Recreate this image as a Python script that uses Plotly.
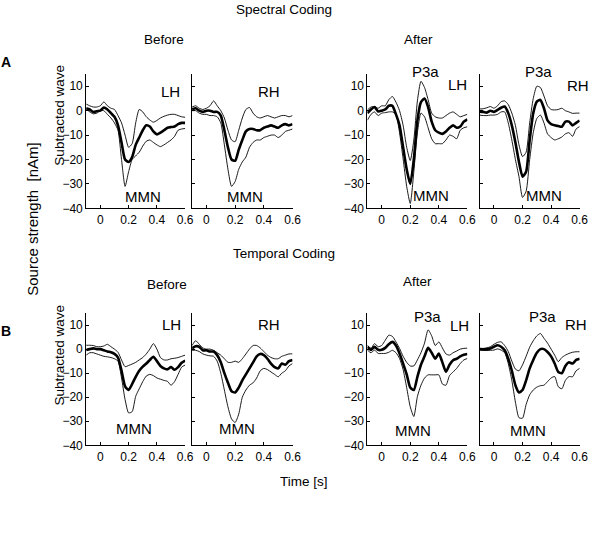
import plotly.graph_objects as go

# ---------------- data ----------------
TIME_S = [-0.1, -0.075, -0.05, -0.025, 0.0, 0.025, 0.05, 0.075, 0.1, 0.125,
          0.15, 0.175, 0.2, 0.225, 0.25, 0.275, 0.3, 0.325, 0.35, 0.375,
          0.4, 0.425, 0.45, 0.475, 0.5, 0.525, 0.55, 0.575, 0.6]

# Spectral coding, before, LH
spec_before_lh_mean = [1, 0.5, -0.5, -0.2, 0, 1.3, 0.5, -1, -2.5, -6, -13, -20, -21, -19, -14, -11, -8, -6, -6.5, -8.5, -9.7, -9, -8, -7, -6.7, -6.5, -5.5, -5, -5]
spec_before_lh_upper = [2.7, 2, 1.5, 1.5, 2, 3.6, 2, 1, 0.5, -2, -5, -10, -15, -13.5, -5, 0.5, -0.5, -2.5, -3.8, -4.7, -4, -3, -2.3, -1.8, -1.5, -1.5, -2, -2.5, -2.7]
spec_before_lh_lower = [0.7, -0.5, -1.3, -1, 0, 0, -1.5, -3, -5, -8, -20, -31, -25, -20, -18.5, -17, -14.5, -12.5, -12, -13, -14, -14.7, -14, -13, -12, -10.5, -8, -7.5, -7.3]
# Spectral coding, before, RH
spec_before_rh_mean = [0.5, 1, 0, -0.5, 0, 0, -0.5, -0.5, -2, -8, -15, -20, -20.5, -16, -12, -8.5, -7.5, -7.5, -8, -8, -7, -6.5, -6, -6.5, -7, -6, -5.5, -6, -5.5]
spec_before_rh_upper = [1.5, 2, 1, 0.5, 1, 2, 4, 2, 0, -3, -8, -12, -12.7, -8, -3, 0.5, 1.3, -1, -2.5, -3, -2.5, -2, -2.5, -3, -2.5, -2, -2, -2.5, -2]
spec_before_rh_lower = [0, 0, -1, -1.5, -1.5, -2, -2, -2.5, -5, -14, -24, -31, -29, -24, -21, -19, -15, -13, -12, -12, -11, -10.5, -10, -10, -11, -10, -8.5, -8, -7.5]
# Spectral coding, after, LH
spec_after_lh_mean = [-1, 0.5, 1.5, -0.3, 0, 0.5, 2, 2, -1.5, -6, -15, -24, -30, -20, -4, 3.5, 5, 1.5, -4.5, -8, -9, -9.5, -8.5, -7, -6, -7, -6.5, -4.5, -3.5]
spec_after_lh_upper = [0.3, 1.5, 1.7, 1, 2, 2, 4.5, 5.8, 3.5, 0, -6, -15, -20.4, -12, 4, 12, 9.5, 4.5, -1, -2.5, -3, -3, -2, -1, -0.5, -1.5, -2.5, -2, -1.5]
spec_after_lh_lower = [-3.9, -1.5, -0.5, -2, -1, -0.8, -0.5, -0.5, -1.5, -9, -19.7, -31, -38, -25, -9, -1, -2.5, -7, -11.5, -13.5, -13.5, -13.5, -12, -10, -10.5, -11.5, -8, -7, -6.6]
# Spectral coding, after, RH
spec_after_rh_mean = [-0.4, -0.5, -0.8, 0, -0.5, 0.3, 1.2, 1.7, -1, -6, -13, -21, -27, -25, -12, -1, 3.7, 4.4, 1, -4, -5.5, -6, -6.3, -6.6, -4.5, -4.5, -6, -5, -4]
spec_after_rh_upper = [0.7, 0.8, 1.2, 1.7, 1, 2, 3.7, 4, 2.5, -1, -6, -14, -18.8, -17, -5, 5, 10, 9.5, 6, 2, 0.5, 0.3, 0.5, 1, 0, -0.5, -1.1, -1, -1]
spec_after_rh_lower = [-1.8, -2, -2, -1.8, -1.8, -1.5, -0.5, -0.5, -5, -12, -20, -27, -35.5, -33, -20, -9, -3.2, -1.8, -5, -9.5, -11, -12, -11.5, -10.8, -9.5, -9, -10.5, -7.5, -6.5]

# Temporal coding, before, LH
temp_before_lh_mean = [-0.4, 0, 0.3, 0, 0, -0.5, -1, -1.3, -2, -3.5, -9, -15.5, -17, -14.5, -11.5, -9, -7.3, -6, -4.5, -3.2, -5, -7, -8, -8.4, -7.5, -8.6, -7.5, -5.7, -4.8]
temp_before_lh_upper = [1.6, 1.6, 1.5, 1, 1, 1.3, 2, 1, 0, -1.3, -4.5, -7.3, -6.8, -6.2, -5.5, -4.5, -3.5, -2, 0, 2.3, 0, -3.5, -4.5, -4.5, -4, -3.8, -3.5, -3, -2.5]
temp_before_lh_lower = [-2.5, -1.5, -1.5, -2, -2.5, -3, -3.2, -3.5, -4, -5, -12, -21, -26.5, -26, -19.6, -16.5, -13.5, -11.2, -10.5, -11, -12, -12.5, -13, -13.4, -15, -13.5, -10.5, -7.5, -6.6]
# Temporal coding, before, RH
temp_before_rh_mean = [0.3, 1.2, 1, -0.5, -0.5, -1, -1, -2.5, -5.5, -10, -14, -17.5, -18, -16, -13, -10.5, -8, -5.5, -3, -2, -2.5, -4, -6, -7.5, -8, -6, -6.5, -5, -4.5]
temp_before_rh_upper = [1.5, 3.5, 2, 0.5, 0, 0, -0.5, -1.5, -2.5, -4, -5.5, -5.5, -5, -5.5, -4, -2, 0, 1.5, 1.5, 0.5, -1, -2.5, -3.5, -4, -4, -3, -2.5, -2, -2]
temp_before_rh_lower = [-0.5, -0.5, -1, -2, -2.5, -2.8, -3, -5, -10, -17, -24, -29, -30.5, -27, -20, -17, -15, -14, -12, -9, -8, -8.5, -9.5, -10.5, -11.5, -10, -9, -7, -6]
# Temporal coding, after, LH
temp_after_lh_mean = [1, -0.3, 1, -0.3, -0.3, 0.5, 2, 3, 1.5, -1.8, -6, -10.5, -16, -17, -11.5, -6.5, -3, 0.5, -1.5, -4, -1.8, -5.5, -9.4, -6.5, -4.6, -4, -3, -2.3, -2]
temp_after_lh_upper = [1.6, 0.3, 2.3, 1, 1.5, 3.7, 5.8, 5.3, 3, 0.3, -3, -5.5, -7, -7, -4.5, -1.5, 2.5, 8, 5.5, 1.5, 3, 0.5, -2, -2.5, -1.5, -0.8, 0, 0.3, 0.4]
temp_after_lh_lower = [-0.4, -1.5, -0.4, -1.8, -1.8, -1.8, -1.3, -0.5, -1.5, -3.9, -8.5, -16, -24, -28, -19.7, -15, -12, -10.7, -10.7, -10.7, -10.7, -14.5, -15, -11, -9.5, -8, -6, -4.5, -3.9]
# Temporal coding, after, RH
temp_after_rh_mean = [0, -0.1, 0, 0.3, 1, 1.6, 1, -0.5, -4, -9, -15, -18, -17, -13, -8, -4.5, -1.5, 0, 0, -1.2, -3, -6, -9.5, -10, -7, -5.5, -6, -4.5, -4]
temp_after_rh_upper = [0.3, 0.3, 0.5, 1, 2, 2.8, 3, 1.5, -1, -5, -8.3, -9, -6.5, -3, 0.8, 3.5, 5.5, 6.5, 4.5, 2.5, 0, -2.5, -5.2, -3.5, -2.5, -1.8, -1.3, -1.1, -1.1]
temp_after_rh_lower = [-0.3, -0.5, -0.6, -0.5, -0.4, 0.1, -0.4, -1.5, -6, -13, -22, -28.5, -28.7, -23, -19, -17, -15.8, -15.2, -15, -13.5, -12, -11.4, -15.6, -16.5, -13, -11.4, -11.5, -9, -8]

X_TICKS = [0, 0.2, 0.4, 0.6]
X_TICK_TEXT = ["0", "0.2", "0.4", "0.6"]
Y_TICKS = [-40, -30, -20, -10, 0, 10]
Y_TICK_TEXT = ["\u221240", "\u221230", "\u221220", "\u221210", "0", "10"]

PANELS = [
    (spec_before_lh_mean, spec_before_lh_upper, spec_before_lh_lower),
    (spec_before_rh_mean, spec_before_rh_upper, spec_before_rh_lower),
    (spec_after_lh_mean, spec_after_lh_upper, spec_after_lh_lower),
    (spec_after_rh_mean, spec_after_rh_upper, spec_after_rh_lower),
    (temp_before_lh_mean, temp_before_lh_upper, temp_before_lh_lower),
    (temp_before_rh_mean, temp_before_rh_upper, temp_before_rh_lower),
    (temp_after_lh_mean, temp_after_lh_upper, temp_after_lh_lower),
    (temp_after_rh_mean, temp_after_rh_upper, temp_after_rh_lower),
]

# ---------------- layout helpers (pixel geometry) ----------------
W, H = 600, 559
FONT = "Liberation Sans, Arial, sans-serif"
COLS = [(87.5, 188), (195, 297), (373, 474.5), (487, 588.5)]
ROWS = [(75, 211), (317, 451)]


def px(x):
    return x / W


def py(y):
    return 1 - y / H


fig = go.Figure()
layout_axes = {}
for i, (mean, upper, lower) in enumerate(PANELS):
    k = i + 1
    r, c = divmod(i, 4)
    xs = "x" if k == 1 else f"x{k}"
    ys = "y" if k == 1 else f"y{k}"
    for series, w in ((upper, 0.9), (lower, 0.9), (mean, 2.6)):
        fig.add_trace(go.Scatter(
            x=TIME_S, y=series, mode="lines", xaxis=xs, yaxis=ys,
            line=dict(color="black", width=w, shape="spline", smoothing=0.6),
            showlegend=False, hoverinfo="skip"))
    l, rr = COLS[c]
    t, b = ROWS[r]
    common = dict(showline=True, linecolor="black", linewidth=1, showgrid=False,
                  zeroline=False, ticks="inside", ticklen=3, tickcolor="black",
                  tickfont=dict(family=FONT, size=12, color="black"), mirror=False)
    layout_axes["xaxis" if k == 1 else f"xaxis{k}"] = dict(
        domain=[px(l), px(rr)], range=[-0.1, 0.6], anchor=ys,
        tickvals=X_TICKS, ticktext=X_TICK_TEXT, **common)
    layout_axes["yaxis" if k == 1 else f"yaxis{k}"] = dict(
        domain=[py(b), py(t)], range=[-40, 15], anchor=xs,
        tickvals=Y_TICKS, ticktext=Y_TICK_TEXT,
        showticklabels=(c in (0, 2)), **common)

fig.update_layout(**layout_axes)

annotations = []


def txt(s, x, y, size=15, bold=False, angle=0):
    annotations.append(dict(
        text=f"<b>{s}</b>" if bold else s, x=px(x), y=py(y), xref="paper", yref="paper",
        showarrow=False, xanchor="center", yanchor="middle", textangle=angle,
        font=dict(family=FONT, size=size, color="black")))


# headings
txt("Spectral Coding", 288, 10, 13.5)
txt("Before", 167, 40, 13.5)
txt("After", 425, 40, 13.5)
txt("Temporal Coding", 288, 257, 13.5)
txt("Before", 170, 288, 13.5)
txt("After", 424, 285, 13.5)
txt("Time [s]", 309, 488, 13.5)
txt("A", 6, 63, 14, bold=True)
txt("B", 6, 335, 14, bold=True)
txt("Source strength  [nAm]", 33, 222, 15, angle=-90)
txt("Subtracted wave", 60, 117, 13.5, angle=-90)
txt("Subtracted wave", 60, 360, 13.5, angle=-90)

# panel labels
txt("LH", 173, 93); txt("MMN", 145, 199)
txt("RH", 273, 93); txt("MMN", 249, 199)
txt("P3a", 432, 72); txt("LH", 464, 86); txt("MMN", 438, 198)
txt("P3a", 547, 72); txt("RH", 587, 87); txt("MMN", 552, 198)
txt("LH", 174, 329); txt("MMN", 136, 434)
txt("RH", 273, 329); txt("MMN", 241, 434)
txt("P3a", 434, 321); txt("LH", 467, 330); txt("MMN", 419, 436)
txt("P3a", 551, 321); txt("RH", 585, 329); txt("MMN", 536, 436)

fig.update_layout(
    width=W, height=H, margin=dict(l=0, r=0, t=0, b=0),
    paper_bgcolor="white", plot_bgcolor="white",
    annotations=annotations, showlegend=False)

fig.write_html("out.html", config={"displayModeBar": False},
               post_script="document.body.style.margin='0';document.body.style.overflow='hidden';")
